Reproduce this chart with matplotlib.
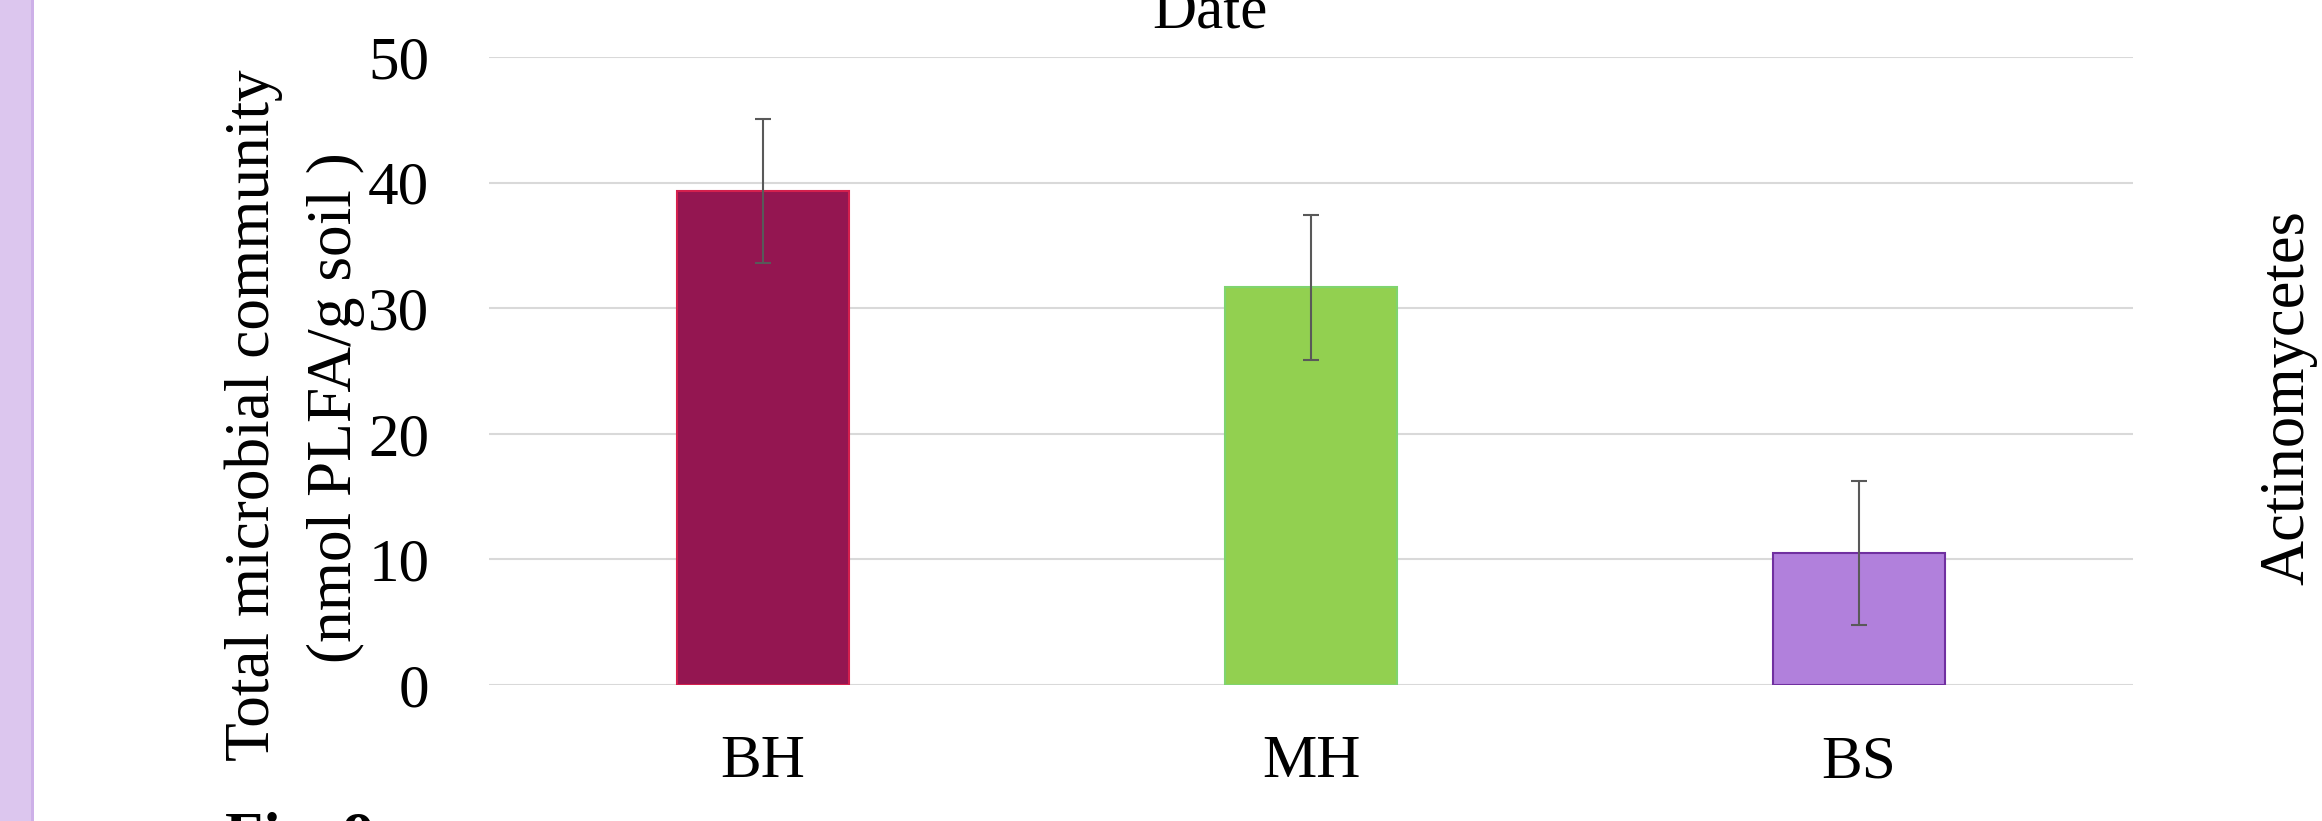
import matplotlib
matplotlib.use("Agg")
import numpy as np
from matplotlib import pyplot as plt
from matplotlib.patches import Rectangle

# PLFA totals per site, with error bars
sites = ['BH', 'MH', 'BS']
totals = [39.35, 31.65, 10.5]
errors = [5.73, 5.74, 5.7]
fills = ['#941651', '#92d050', '#b180dc']
edges = ['#d4204e', '#7fd46e', '#7030a0']
yticks = [0, 10, 20, 30, 40, 50]

plt.rcParams['font.family'] = ['Liberation Serif', 'DejaVu Serif']

fig = plt.figure(figsize=(23.22, 8.21), dpi=100)
ax = fig.add_axes([0.2106, 0.1657, 0.708, 0.7649])

x = np.arange(len(sites))
ax.bar(x, totals, width=0.315, color=fills, edgecolor=edges, linewidth=1.5, zorder=2)
ax.errorbar(x, totals, yerr=errors, fmt='none', ecolor='#595959',
            elinewidth=1.5, capsize=5.8, capthick=1.5, zorder=3)

ax.set_xlim(-0.5, 2.5)
ax.set_ylim(0, 50)
ax.set_yticks(yticks)
ax.set_xticks(x)
ax.set_xticklabels(sites)
ax.grid(axis='y', color='#d9d9d9', linewidth=1.5, zorder=0)
ax.set_axisbelow(True)
for s in ax.spines.values():
    s.set_visible(False)
ax.tick_params(axis='both', length=0, labelsize=44)
ax.tick_params(axis='y', pad=43)
ax.tick_params(axis='x', pad=36)

# y label, two lines
fig.text(0.1160, 0.4945, 'Total microbial community', rotation=90,
         rotation_mode='anchor', ha='center', va='baseline', fontsize=45.5)
fig.text(0.1512, 0.5037, '(nmol PLFA/g soil )', rotation=90,
         rotation_mode='anchor', ha='center', va='baseline', fontsize=45.5)

# cut-off texts from the surrounding page
fig.text(0.5211, 0.9659, 'Date', ha='center', va='baseline', fontsize=44)
fig.text(0.9918, 0.5152, 'Actinomycetes', rotation=90, rotation_mode='anchor',
         ha='center', va='baseline', fontsize=45)
fig.text(0.0969, -0.0426, 'Fig. 9', ha='left', va='baseline', fontsize=45,
         fontweight='bold')

# purple strip on the left
fig.patches.append(Rectangle((0, 0), 33 / 2322, 1, transform=fig.transFigure,
                             facecolor='#dcc6ee', edgecolor='none'))
fig.patches.append(Rectangle((31 / 2322, 0), 3 / 2322, 1, transform=fig.transFigure,
                             facecolor='#cdb0e8', edgecolor='none'))

fig.savefig('out.png', dpi=100)
